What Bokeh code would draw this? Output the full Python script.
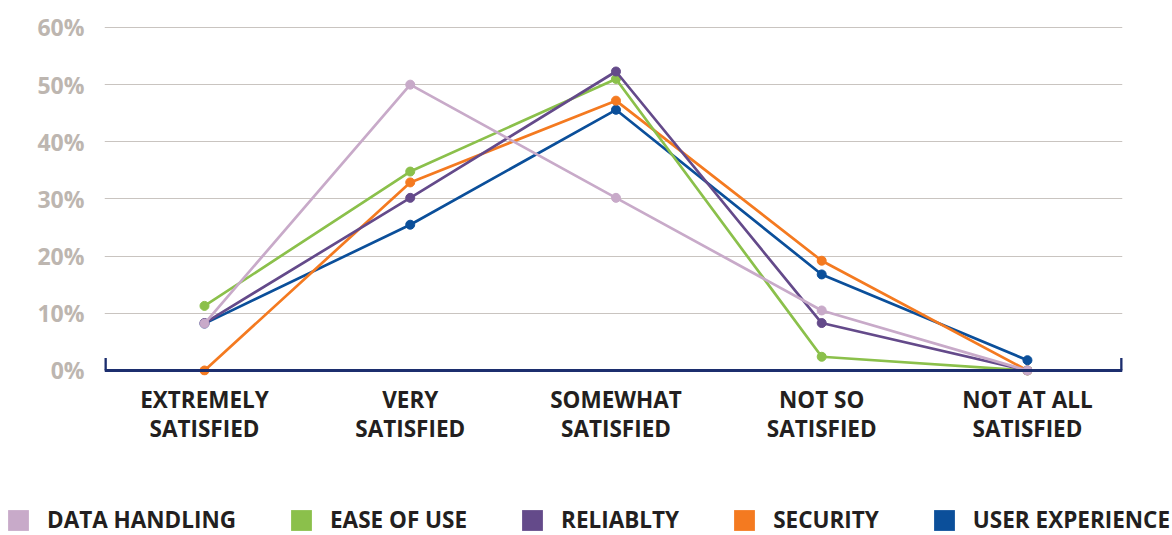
from bokeh.plotting import figure
from bokeh.models import (Range1d, FixedTicker, Span, Legend, LegendItem)
from bokeh.layouts import column
from bokeh.embed import file_html
from bokeh.resources import INLINE

categories = ["EXTREMELY\nSATISFIED", "VERY\nSATISFIED", "SOMEWHAT\nSATISFIED",
              "NOT SO\nSATISFIED", "NOT AT ALL\nSATISFIED"]
data_handling = [8.2, 50.0, 30.2, 10.5, 0.0]
ease_of_use = [11.3, 34.8, 51.0, 2.4, 0.0]
reliability = [8.3, 30.2, 52.3, 8.3, 0.0]
security = [0.0, 32.9, 47.2, 19.2, 0.0]
user_experience = [8.2, 25.5, 45.6, 16.8, 1.8]
y_ticks = [0, 10, 20, 30, 40, 50, 60]
y_tick_labels = ["0%", "10%", "20%", "30%", "40%", "50%", "60%"]

series = [
    ("DATA HANDLING", data_handling, "#c8aac9"),
    ("EASE OF USE", ease_of_use, "#8bc04b"),
    ("RELIABLTY", reliability, "#644a8a"),
    ("SECURITY", security, "#f47a20"),
    ("USER EXPERIENCE", user_experience, "#0b4f9a"),
]
draw_order = [4, 3, 1, 2, 0]

FONT = "Open Sans"
x0, x1 = -0.486, 4.462
y0, y1 = -0.875, 62.97

p = figure(width=1172, height=490, output_backend="svg", toolbar_location=None,
           x_range=Range1d(x0, x1), y_range=Range1d(y0, y1),
           min_border_left=104, min_border_right=50, min_border_top=10,
           min_border_bottom=115)
p.frame_align = False
p.outline_line_color = None
p.background_fill_color = "white"
p.border_fill_color = "white"

# grid
p.xgrid.visible = False
p.ygrid.ticker = FixedTicker(ticks=y_ticks[1:])
p.ygrid.grid_line_color = "#c9c4c0"
p.ygrid.grid_line_width = 1.2

# y axis
ya = p.yaxis[0]
ya.ticker = FixedTicker(ticks=y_ticks)
ya.major_label_overrides = {t: l for t, l in zip(y_ticks, y_tick_labels)}
ya.axis_line_color = None
ya.major_tick_line_color = None
ya.minor_tick_line_color = None
ya.major_label_standoff = 14
ya.major_label_text_font = FONT
ya.major_label_text_font_style = "bold"
ya.major_label_text_font_size = "23px"
ya.major_label_text_color = "#bdb6b0"

# x axis
xa = p.xaxis[0]
xa.ticker = FixedTicker(ticks=list(range(len(categories))))
xa.major_label_overrides = {i: c for i, c in enumerate(categories)}
xa.axis_line_color = None
xa.major_tick_line_color = None
xa.minor_tick_line_color = None
xa.major_label_standoff = 2
xa.major_label_text_font = FONT
xa.major_label_text_font_style = "bold"
xa.major_label_text_font_size = "22.5px"
xa.major_label_text_color = "#231f20"
xa.major_label_text_line_height = 0.95

# baseline axis with end caps
navy = "#1c2e6e"
p.add_layout(Span(location=0, dimension="width", line_color=navy, line_width=3))
p.segment(x0=[x0 + 0.004, x1 - 0.004], y0=[0, 0], x1=[x0 + 0.004, x1 - 0.004], y1=[2.2, 2.2],
          line_color=navy, line_width=3)

xs = list(range(len(categories)))
for i in draw_order:
    name, vals, color = series[i]
    p.line(xs, vals, line_color=color, line_width=2.7)
    p.scatter(xs, vals, size=9, fill_color=color, line_color=color)

# legend strip
lg = figure(width=1172, height=45, output_backend="svg", toolbar_location=None,
            x_range=Range1d(0, 1), y_range=Range1d(0, 1),
            x_axis_location=None, y_axis_location=None,
            min_border=0, min_border_left=0, min_border_right=0,
            min_border_top=0, min_border_bottom=0)
lg.frame_align = False
lg.outline_line_color = None
lg.xgrid.visible = False
lg.ygrid.visible = False

items = []
for name, vals, color in series:
    # zero-area swatch source: only its fill is shown, in the legend
    r = lg.quad(left=[0], right=[0], top=[0], bottom=[0], fill_color=color, line_color=None)
    items.append(LegendItem(label=name, renderers=[r]))

legend = Legend(items=items, orientation="horizontal", location=(5, 0),
                glyph_width=26, glyph_height=26, label_standoff=16, spacing=52,
                label_height=20, label_text_line_height=0.8,
                padding=0, margin=0, border_line_alpha=0, background_fill_alpha=0,
                label_text_font=FONT, label_text_font_size="22.5px",
                label_text_font_style="bold", label_text_color="#231f20")
lg.add_layout(legend, "center")

open("out.html", "w").write(file_html(column(p, lg), INLINE))
